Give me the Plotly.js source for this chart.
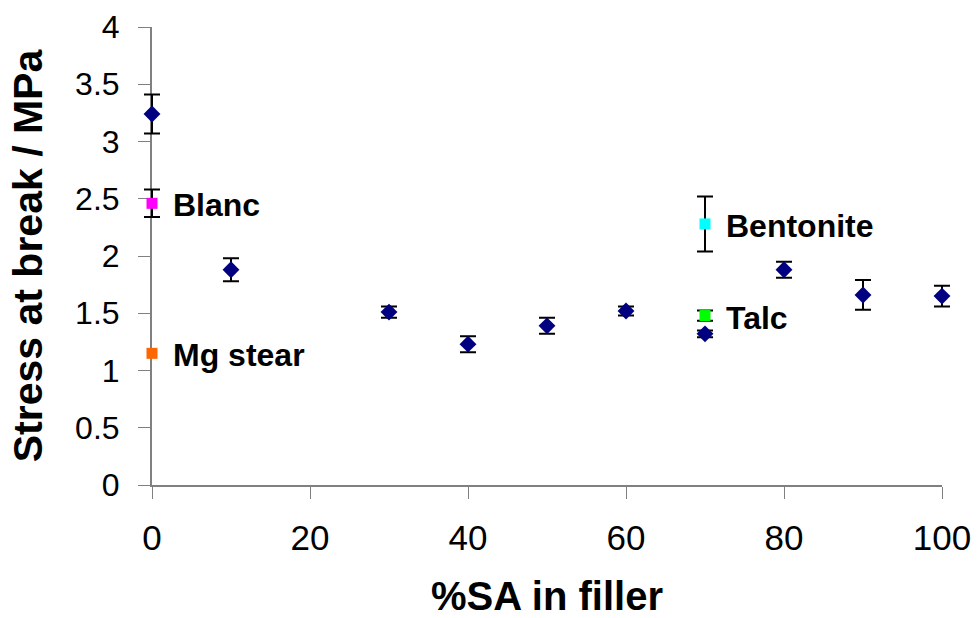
<!DOCTYPE html>
<html>
<head>
<meta charset="utf-8">
<script src="https://cdn.plot.ly/plotly-3.0.1.min.js"></script>
<style>html,body{margin:0;padding:0;background:#fff}#chart{width:977px;height:618px}</style>
</head>
<body>
<div id="chart"></div>
<script>
// Main series: %SA in filler vs stress at break
const saPercent = [0, 10, 30, 40, 50, 60, 70, 80, 90, 100];
const stress = [3.24, 1.88, 1.51, 1.23, 1.39, 1.52, 1.32, 1.88, 1.66, 1.65];
const stressErr = [0.17, 0.10, 0.05, 0.07, 0.07, 0.04, 0.03, 0.07, 0.13, 0.09];

// Reference fillers
const refNames = ["Blanc", "Mg stear", "Bentonite", "Talc"];
const refX = [0, 0, 70, 70];
const refY = [2.46, 1.15, 2.28, 1.48];
const refErr = [0.12, 0, 0.24, 0.045];
const refColors = ["#FF00FF", "#FF6600", "#00FFFF", "#00FF00"];

const font = "Liberation Sans, Arial, sans-serif";

// Geometry: visible axes span pixels 152..942; data layer is a wider
// overlapping subplot (so error bars at x=0 / x=100 are not clipped) with the same scale.
const ML = 132, MR = 15, W = 977;
const plotW = W - ML - MR;           // 830
const padPx = 152 - ML;              // 20
const innerW = plotW - 2 * padPx;    // 790
const pxPerUnit = innerW / 100;
const ext = padPx / pxPerUnit;

const traces = [];
// invisible trace that carries the visible axes
traces.push({
  type: "scatter", mode: "markers", name: "axes", x: saPercent, y: stress,
  xaxis: "x", yaxis: "y", marker: {opacity: 0, size: 1}, hoverinfo: "skip"
});
refNames.forEach((n, i) => {
  traces.push({
    type: "scatter", mode: "markers", name: n, cliponaxis: false,
    x: [refX[i]], y: [refY[i]], xaxis: "x2", yaxis: "y2",
    marker: {symbol: "square", size: 11, color: refColors[i]},
    error_y: {type: "data", array: [refErr[i]], visible: refErr[i] > 0, color: "#000", thickness: 2, width: 8}
  });
});
traces.push({
  type: "scatter", mode: "markers", name: "SA", cliponaxis: false,
  x: saPercent, y: stress, xaxis: "x2", yaxis: "y2",
  marker: {symbol: "diamond", size: 13, color: "#000080"},
  error_y: {type: "data", array: stressErr, color: "#000", thickness: 2, width: 8}
});

const annotations = refNames.map((n, i) => ({
  x: refX[i], y: refY[i], xref: "x", yref: "y",
  text: "<b>" + n + "</b>", showarrow: false,
  xanchor: "left", yanchor: "middle", xshift: 19, yshift: -2,
  font: {family: font, size: 32, color: "#000"}
}));

const layout = {
  width: 977, height: 618,
  margin: {l: ML, r: MR, t: 27, b: 133},
  paper_bgcolor: "#fff", plot_bgcolor: "rgba(0,0,0,0)",
  showlegend: false,
  // visible axes
  xaxis: {
    domain: [padPx / plotW, (plotW - padPx) / plotW], anchor: "y",
    range: [0, 100], tickvals: [0, 20, 40, 60, 80, 100],
    showgrid: false, zeroline: false,
    showline: true, linecolor: "#808080", linewidth: 2,
    ticks: "outside", ticklen: 12, tickcolor: "#808080", tickwidth: 1,
    ticklabelstandoff: 9,
    tickfont: {family: font, size: 35, color: "#000"},
    title: {text: "<b>%SA in filler</b>", font: {family: font, size: 40, color: "#000"}, standoff: 26}
  },
  yaxis: {
    domain: [0, 1], anchor: "x",
    range: [0, 4], dtick: 0.5, tick0: 0,
    showgrid: false, zeroline: false,
    showline: true, linecolor: "#808080", linewidth: 2,
    ticks: "outside", ticklen: 12, tickcolor: "#808080", tickwidth: 1,
    ticklabelstandoff: 12,
    tickfont: {family: font, size: 32, color: "#000"},
    title: {text: "<b>Stress at break / MPa</b>", font: {family: font, size: 41, color: "#000"}, standoff: 20}
  },
  // data layer
  xaxis2: {domain: [0, 1], range: [-ext, 100 + ext], visible: false, anchor: "y2", fixedrange: true},
  yaxis2: {domain: [0, 1], range: [0, 4], visible: false, anchor: "x2", fixedrange: true},
  annotations: annotations
};

Plotly.newPlot("chart", traces, layout, {displayModeBar: false, staticPlot: true});
</script>
</body>
</html>
